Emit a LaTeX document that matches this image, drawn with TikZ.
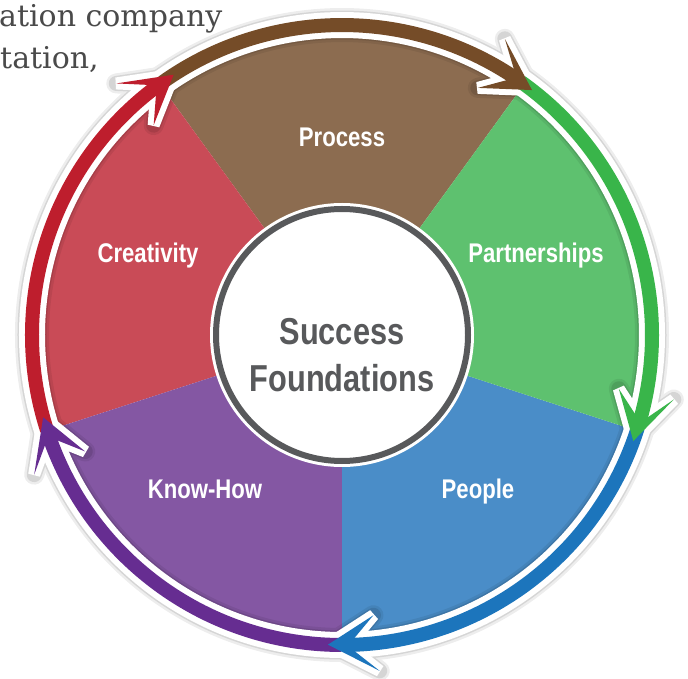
\documentclass[tikz,border=0pt]{standalone}
\usepackage{fontspec}
\usetikzlibrary{calc}
\newfontfamily\condfont[FakeStretch=0.82]{Liberation Sans}
\newfontfamily\bookserif{DejaVu Serif}
\definecolor{secProc}{HTML}{8C6C50}
\definecolor{secCrea}{HTML}{C94B57}
\definecolor{secKnow}{HTML}{8457A3}
\definecolor{secPeop}{HTML}{4A8DC8}
\definecolor{secPart}{HTML}{5EC16F}
\definecolor{arrRed}{HTML}{BE1E2D}
\definecolor{arrBrown}{HTML}{754C28}
\definecolor{arrGreen}{HTML}{39B54A}
\definecolor{arrBlue}{HTML}{1C75BC}
\definecolor{arrPurple}{HTML}{662D91}
\definecolor{hubgray}{HTML}{58595B}
\definecolor{textgray}{HTML}{4A4A4A}
% band of the ring from angle #1 (start, under previous head) to #2 (tip)
\newcommand\ringBand[2]{($(C)+(#1+2.5:317)$) arc[start angle=#1+2.5, end angle=#2+3.6, radius=317] -- ($(C)+(#2+3.6:303)$) arc[start angle=#2+3.6, end angle=#1+2.5, radius=303] -- cycle}
\newcommand\ringHead[1]{($(C)+(#1+5:317)$) -- ($(C)+(#1+9:338)$) -- ($(C)+(#1:310)$) -- ($(C)+(#1+9:282)$) -- ($(C)+(#1+5:303)$) -- cycle}
\tikzset{
  lab/.style={text=white, font=\condfont\bfseries\fontsize{27}{30}\selectfont, anchor=base, inner sep=0pt},
  hubtext/.style={text=hubgray, font=\condfont\bfseries\fontsize{37.5}{45}\selectfont, anchor=base, inner sep=0pt},
  toptext/.style={text=textgray, font=\bookserif\fontsize{30}{36}\selectfont, anchor=base west, inner sep=0pt},
  ringwhite/.style={draw=white, fill=white, line width=12pt, line join=miter, miter limit=4},
  ringshade/.style={draw=black, fill=black, line join=round},
}
\begin{document}
\begin{tikzpicture}[x=1pt,y=1pt]
\useasboundingbox (0,0) rectangle (688,678);
\coordinate (C) at (342,343);
% text at top left
\node[toptext] (t1) at (-1,651) {ation company};
\node[toptext] (t2) at (0,609) {tation,};
% pie sectors
\fill[secProc] (C) -- ($(C)+(54:300)$) arc[start angle=54, end angle=126, radius=300] -- cycle;
\fill[secCrea] (C) -- ($(C)+(126:300)$) arc[start angle=126, end angle=198, radius=300] -- cycle;
\fill[secKnow] (C) -- ($(C)+(198:300)$) arc[start angle=198, end angle=270, radius=300] -- cycle;
\fill[secPeop] (C) -- ($(C)+(270:300)$) arc[start angle=270, end angle=342, radius=300] -- cycle;
\fill[secPart] (C) -- ($(C)+(342:300)$) arc[start angle=342, end angle=414, radius=300] -- cycle;
% ring shadow
\begin{scope}[transparency group, opacity=0.07, shift={(1.5,-2.5)}]
\foreach \a/\b in {195.4/122.9, 122.9/52.2, 52.2/-20, -20/-92.6, -92.6/-164.6}{
  \path[ringshade, line width=20pt] \ringBand{\a}{\b};
  \path[ringshade, line width=20pt] \ringHead{\b};
}
\end{scope}
\begin{scope}[transparency group, opacity=0.10, shift={(1,-2)}]
\foreach \a/\b in {195.4/122.9, 122.9/52.2, 52.2/-20, -20/-92.6, -92.6/-164.6}{
  \path[ringshade, line width=15pt] \ringBand{\a}{\b};
  \path[ringshade, line width=15pt] \ringHead{\b};
}
\end{scope}
% white outline of the ring
\foreach \a/\b in {195.4/122.9, 122.9/52.2, 52.2/-20, -20/-92.6, -92.6/-164.6}{
  \path[ringwhite] \ringBand{\a}{\b};
  \path[ringwhite] \ringHead{\b};
}
% coloured bands
\foreach \a/\b/\c in {195.4/122.9/arrRed, 122.9/52.2/arrBrown, 52.2/-20/arrGreen, -20/-92.6/arrBlue, -92.6/-164.6/arrPurple}{
  \fill[\c] \ringBand{\a}{\b};
}
% arrow heads
\foreach \b/\c in {122.9/arrRed, 52.2/arrBrown, -20/arrGreen, -92.6/arrBlue, -164.6/arrPurple}{
  \fill[\c] \ringHead{\b};
}
% hub
\fill[white] (C) circle[radius=132];
\draw[hubgray, line width=6pt] (C) circle[radius=126];
% labels
\node[lab] (proc) at (342,531) {Process};
\node[lab] (crea) at (148,415) {Creativity};
\node[lab] (part) at (536,415) {Partnerships};
\node[lab] (know) at (205,180) {Know-How};
\node[lab] (peop) at (478,180) {People};
\node[hubtext] (succ) at (342,333) {Success};
\node[hubtext] (found) at (342,286) {Foundations};
\end{tikzpicture}
\end{document}
